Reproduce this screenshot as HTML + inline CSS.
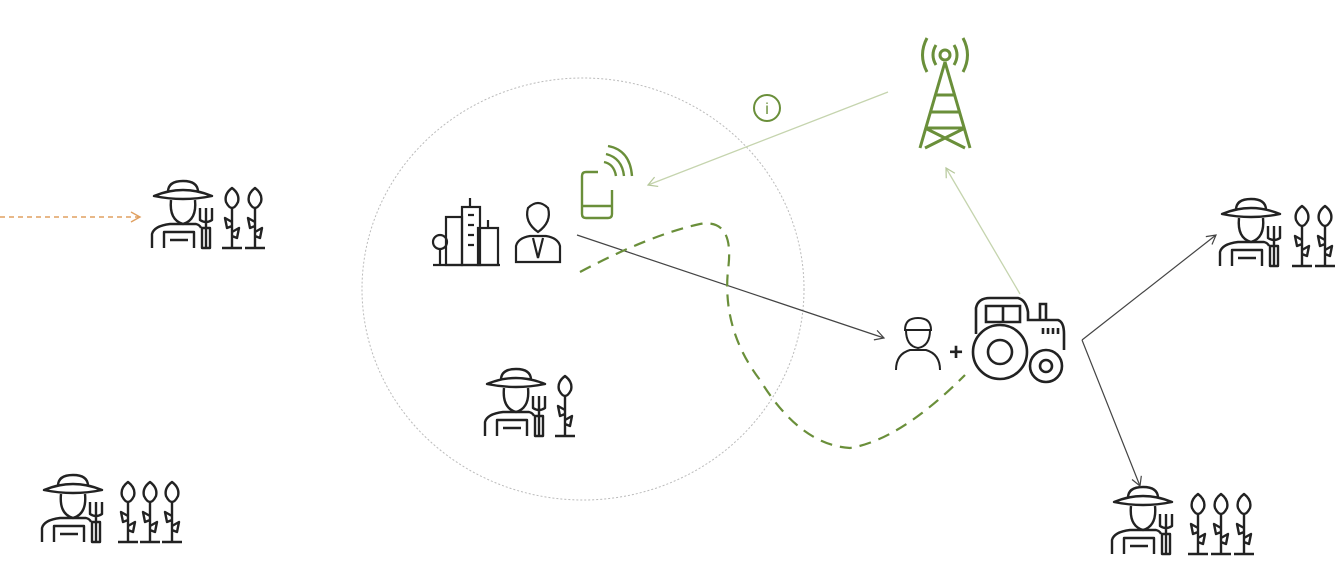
<!DOCTYPE html>
<html><head><meta charset="utf-8"><style>
html,body{margin:0;padding:0;background:#fff;width:1342px;height:583px;overflow:hidden}
svg{display:block}
</style></head><body>
<svg width="1342" height="583" viewBox="0 0 1342 583" xmlns="http://www.w3.org/2000/svg">
<defs>
<marker id="ag" markerWidth="12" markerHeight="12" refX="10" refY="6" orient="auto" markerUnits="userSpaceOnUse"><path d="M1,1 L10,6 L1,11" fill="none" stroke="#444" stroke-width="1.2"/></marker>
<marker id="alg" markerWidth="12" markerHeight="12" refX="10" refY="6" orient="auto" markerUnits="userSpaceOnUse"><path d="M1,1 L10,6 L1,11" fill="none" stroke="#b5c79a" stroke-width="1.2"/></marker>
<marker id="ao" markerWidth="12" markerHeight="12" refX="10" refY="6" orient="auto" markerUnits="userSpaceOnUse"><path d="M1,1 L10,6 L1,11" fill="none" stroke="#e0a060" stroke-width="1.4"/></marker>
<g id="farmer" fill="none" stroke="#222" stroke-width="2.4" stroke-linejoin="round">
<path d="M18,12 Q18,1 33,1 Q48,1 48,12"/>
<path d="M4,16 Q33,4 62,16 Q33,22 4,16Z"/>
<path d="M21,20 Q19,40 33,44 Q47,40 45,20"/>
<path d="M2,68 L2,54 Q4,46 20,44 L46,44 Q50,45 51,48"/>
<path d="M14,68 L14,52 L44,52 L44,68"/>
<path d="M20,60 L38,60"/>
<path d="M50,28 L50,40 Q56,44 62,40 L62,28 M56,28 L56,68 M52,48 L60,48 L60,68 L52,68Z"/>
</g>
<g id="plant" fill="none" stroke="#222" stroke-width="2.4" stroke-linejoin="round">
<path d="M10,2 Q2,8 4,16 Q7,22 10,22 Q13,22 16,16 Q18,8 10,2Z"/>
<path d="M10,22 L10,62 M10,36 L3,32 L5,42 L10,40 M10,46 L17,42 L15,52 L10,50"/>
<path d="M0,62 L20,62"/>
</g>
</defs>

<ellipse cx="583" cy="289" rx="221" ry="211" fill="none" stroke="#bbb" stroke-width="1" stroke-dasharray="2,2"/>

<line x1="0" y1="217" x2="140" y2="217" stroke="#e0a060" stroke-width="1.4" stroke-dasharray="5,4" marker-end="url(#ao)"/>

<use href="#farmer" x="150" y="180"/><use href="#plant" x="222" y="186"/><use href="#plant" x="245" y="186"/>
<use href="#farmer" x="483" y="368"/><use href="#plant" x="555" y="374"/>
<use href="#farmer" x="40" y="474"/><use href="#plant" x="118" y="480"/><use href="#plant" x="140" y="480"/><use href="#plant" x="162" y="480"/>
<use href="#farmer" x="1218" y="198"/><use href="#plant" x="1292" y="204"/><use href="#plant" x="1315" y="204"/>
<use href="#farmer" x="1110" y="486"/><use href="#plant" x="1188" y="492"/><use href="#plant" x="1211" y="492"/><use href="#plant" x="1234" y="492"/>

<g fill="none" stroke="#222" stroke-width="2.2">
<rect x="462" y="207" width="18" height="58"/><path d="M470,207 V198"/>
<rect x="446" y="217" width="16" height="48"/>
<rect x="478" y="228" width="20" height="37"/><path d="M488,228 V220"/>
<circle cx="440" cy="242" r="7"/><path d="M440,249 V265 M433,265 H500"/>
<path d="M468,215 h6 M468,225 h6 M468,235 h6 M468,245 h6"/>
</g>
<g fill="none" stroke="#222" stroke-width="2.2">
<path d="M528,208 Q538,198 548,208 Q552,222 538,232 Q524,222 528,208Z"/>
<path d="M516,262 L516,246 Q518,238 530,236 L546,236 Q558,238 560,246 L560,262 Z"/>
<path d="M533,238 L538,258 L543,238"/>
</g>
<g fill="none" stroke="#6a8f3a" stroke-width="2.4">
<path d="M598,172 L586,172 Q582,172 582,176 L582,214 Q582,218 586,218 L608,218 Q612,218 612,214 L612,190"/><path d="M582,206 H612"/>
<path d="M604,162 Q614,164 616,176 M606,154 Q622,158 624,176 M608,146 Q630,150 632,176"/>
</g>
<g fill="none" stroke="#6a8f3a" stroke-width="3">
<circle cx="945" cy="55" r="5"/>
<path d="M936,45 Q930,55 936,65 M954,45 Q960,55 954,65 M927,38 Q918,55 927,72 M963,38 Q972,55 963,72"/>
<path d="M945,62 L920,148 M945,62 L970,148 M935,95 H955 M930,112 H960 M925,128 L965,148 M965,128 L925,148 M925,128 H965"/>
</g>
<circle cx="767" cy="108" r="13" fill="none" stroke="#6a8f3a" stroke-width="2"/>
<text x="767" y="114" font-family="Liberation Sans, sans-serif" font-size="16" fill="#6a8f3a" text-anchor="middle">i</text>

<line x1="888" y1="92" x2="648" y2="185" stroke="#c5d4ae" stroke-width="1.3" marker-end="url(#alg)"/>
<line x1="1020" y1="294" x2="946" y2="168" stroke="#c5d4ae" stroke-width="1.3" marker-end="url(#alg)"/>
<line x1="577" y1="235" x2="884" y2="338" stroke="#444" stroke-width="1.2" marker-end="url(#ag)"/>
<path d="M1082,340 L1216,235" stroke="#444" stroke-width="1.2" fill="none" marker-end="url(#ag)"/>
<path d="M1082,340 L1140,486" stroke="#444" stroke-width="1.2" fill="none" marker-end="url(#ag)"/>
<path d="M580,272 Q650,235 700,224 Q735,218 728,270 Q722,330 760,380 Q800,445 850,448 Q900,440 965,375" fill="none" stroke="#6a8f3a" stroke-width="2.2" stroke-dasharray="12,8"/>

<g fill="none" stroke="#222" stroke-width="2">
<path d="M905,330 Q905,318 918,318 Q931,318 931,330 Z"/>
<path d="M906,330 Q906,346 918,348 Q930,346 930,330"/>
<path d="M896,370 Q896,354 910,350 L926,350 Q940,354 940,370"/>
</g>
<text x="956" y="360" font-family="Liberation Sans, sans-serif" font-size="24" font-weight="bold" fill="#222" text-anchor="middle">+</text>
<g fill="none" stroke="#222" stroke-width="2.6">
<path d="M976,334 L976,308 Q978,298 990,298 L1018,298 Q1026,300 1028,312 L1028,320 L1058,320 Q1064,322 1064,334 L1064,350"/>
<path d="M986,322 V306 H1020 V322 Z M1003,306 V322"/>
<path d="M1040,320 V304 H1046 V320"/>
<circle cx="1000" cy="352" r="27"/><circle cx="1000" cy="352" r="12"/>
<circle cx="1046" cy="366" r="16"/><circle cx="1046" cy="366" r="6"/>
<path d="M1043,328 v6 M1048,328 v6 M1053,328 v6 M1058,328 v6"/>
</g>
</svg>
</body></html>
